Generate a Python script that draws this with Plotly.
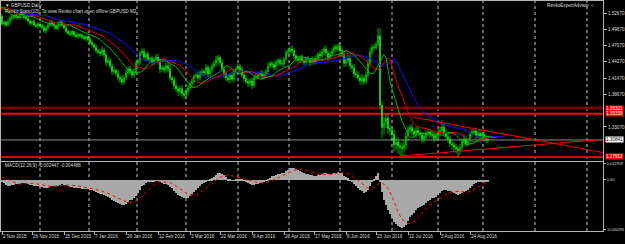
import plotly.graph_objects as go
import pandas as pd

# ---------------- data (prices in 1/10000 units) ----------------
SCALE = 10000.0

# bars before the visible window (only used to warm up the indicators)
warmup_closes = [15220, 15195, 15195, 15135, 15125, 15165, 15185, 15190, 15210, 15285,
                 15330, 15310, 15300, 15240, 15450, 15470, 15440, 15490, 15445, 15440,
                 15395, 15310, 15340, 15300, 15250, 15300, 15425, 15415, 15395, 15300, 15210]

closes = [
    # Nov 2015
    15080, 15110, 15060, 15120, 15180, 15200, 15230, 15210, 15190, 15250,
    15240, 15200, 15170, 15130, 15090, 15120, 15060, 15040, 15080, 15050,
    # Dec 2015
    15020, 14960, 15010, 15060, 15100, 15080, 15040, 15000, 15070, 15110,
    15060, 15010, 14950, 14920, 14900, 14950, 14890, 14860, 14900, 14880,
    14850, 14830, 14860, 14810, 14760,
    # Jan 2016
    14720, 14680, 14620, 14600, 14570, 14630, 14550, 14420, 14450, 14360,
    14260, 14280, 14230, 14160, 14130, 14080, 14150, 14240, 14310, 14270,
    14200, 14260, 14410,
    # Feb 2016
    14430, 14580, 14610, 14500, 14560, 14470, 14480, 14420, 14470, 14510,
    14440, 14300, 14320, 14290, 14360, 14310, 14150, 14120, 14020, 13960,
    13920, 13970, 13880, 13850, 13920,
    # Mar 2016
    13980, 14050, 14090, 14180, 14200, 14150, 14240, 14260, 14240, 14330,
    14220, 14290, 14350, 14400, 14460, 14500, 14410, 14300, 14220, 14150,
    14120, 14200, 14130, 14260, 14310, 14350,
    # Apr 2016
    14290, 14200, 14140, 14090, 14060, 14100, 14020, 14150, 14180, 14200,
    14230, 14170, 14220, 14260, 14350, 14400, 14380, 14330, 14420, 14450,
    14400, 14390, 14470, 14580, 14600,
    # May 2016
    14650, 14620, 14530, 14480, 14450, 14500, 14440, 14420, 14480, 14460,
    14410, 14470, 14430, 14490, 14560, 14530, 14600, 14650, 14580, 14500,
    14560, 14610, 14680, 14650, 14700, 14620,
    # Jun 2016 (to the referendum)
    14560, 14400, 14450, 14490, 14360, 14330, 14220, 14200, 14150, 14100,
    14150, 14090, 14200, 14400, 14600, 14680, 14670, 14720, 14870,
    # after the referendum
    13680, 13300, 13380, 13460, 13280, 13250, 13180, 13000, 13050, 12980,
    12960, 12940, 13000, 13150, 13260,
    # Jul 2016
    13300, 13230, 13180, 13250, 13210, 13170, 13100, 13150, 13200, 13220,
    13180, 13160, 13110, 13150, 13220,
    # Aug 2016
    13250, 13310, 13200, 13140, 13100, 13020, 13000, 12960, 12930, 12900,
    12950, 13050, 13100, 13020, 13060, 13180, 13220, 13240, 13160, 13200,
    13150, 13180, 13120, 13080, 13084,
]

upper_wick = [
    35, 40, 25, 50, 30, 45, 20, 35, 55, 30, 40, 25, 30, 45, 35, 20, 50, 30, 25, 40,
    30, 45, 35, 25, 50, 40, 30, 20, 45, 35, 30, 40, 25, 35, 45, 30, 20, 40, 35, 25, 30, 45, 35, 20, 40,
    40, 35, 50, 30, 45, 60, 35, 40, 55, 50, 45, 60, 35, 50, 40, 70, 45, 55, 40, 50, 35, 60, 45,
    55, 40, 60, 45, 35, 50, 40, 55, 35, 45, 60, 40, 50, 35, 45, 60, 70, 40, 55, 65, 50, 45, 60, 40, 55,
    50, 40, 60, 35, 45, 55, 40, 50, 35, 60, 45, 40, 55, 50, 70, 45, 40, 60, 50, 45, 55, 40, 60, 35, 45, 50,
    45, 55, 40, 60, 50, 45, 55, 40, 50, 45, 35, 55, 40, 45, 60, 50, 40, 55, 45, 35, 50, 60, 45, 55, 50,
    40, 55, 45, 35, 50, 40, 60, 45, 35, 50, 40, 55, 45, 50, 35, 60, 45, 40, 55, 50, 45, 60, 40, 50, 45, 55,
    60, 50, 45, 70, 55, 40, 60, 50, 65, 45, 70, 55, 60, 80, 70, 50, 60, 55, 130,
    140, 60, 90, 70, 80, 75, 65, 90, 70, 80, 60, 75, 85, 70, 65,
    55, 65, 50, 60, 70, 45, 55, 60, 50, 45, 55, 65, 50, 60, 45,
    60, 120, 55, 65, 50, 60, 55, 45, 60, 50, 65, 55, 70, 50, 60, 55, 45, 60, 50, 45, 55, 40, 50, 45, 35,
]

lower_wick = [
    30, 45, 35, 25, 40, 30, 50, 25, 35, 40, 30, 45, 35, 30, 50, 25, 40, 35, 45, 30,
    40, 30, 45, 35, 25, 40, 50, 30, 35, 45, 30, 25, 40, 35, 30, 45, 40, 25, 35, 40, 30, 35, 45, 40, 30,
    45, 40, 55, 35, 50, 40, 60, 70, 45, 55, 60, 50, 45, 65, 70, 55, 45, 40, 50, 60, 45, 50, 40,
    45, 55, 40, 50, 60, 45, 40, 55, 50, 45, 60, 70, 45, 55, 50, 60, 45, 70, 65, 50, 80, 55, 60, 70, 50,
    55, 45, 60, 50, 40, 55, 45, 50, 60, 40, 55, 50, 45, 40, 50, 60, 55, 45, 70, 55, 50, 60, 45, 55, 40, 50,
    50, 55, 60, 45, 70, 50, 65, 45, 40, 50, 45, 55, 40, 50, 45, 40, 55, 50, 45, 60, 40, 45, 50, 40, 55,
    45, 50, 55, 60, 45, 50, 40, 55, 50, 45, 60, 40, 50, 45, 55, 40, 45, 50, 60, 55, 40, 45, 50, 55, 45, 40,
    50, 65, 55, 45, 60, 70, 55, 60, 50, 65, 70, 60, 50, 45, 55, 50, 45, 40, 20,
    60, 180, 120, 90, 100, 85, 110, 120, 95, 130, 140, 110, 85, 70, 80,
    60, 70, 55, 65, 50, 60, 75, 55, 60, 50, 65, 55, 70, 50, 55,
    50, 55, 65, 60, 70, 55, 80, 90, 75, 110, 70, 60, 55, 65, 50, 60, 55, 50, 65, 45, 55, 50, 60, 55, 45,
]

date_labels = ["2 Nov 2015", "26 Nov 2015", "15 Dec 2015", "7 Jan 2016", "26 Jan 2016",
               "12 Feb 2016", "3 Mar 2016", "22 Mar 2016", "8 Apr 2016", "28 Apr 2016",
               "17 May 2016", "6 Jun 2016", "23 Jun 2016", "12 Jul 2016", "3 Aug 2016",
               "24 Aug 2016"]
date_label_bars = [0, 15, 31, 46, 62, 78, 94, 109, 125, 141, 156, 172, 187, 203, 219, 234]
grid_bars = [19, 43.5, 67.5, 92, 118, 143.5, 169, 195, 218, 240.5, 266.5, 292.5]

price_ticks = [1.52670, 1.49870, 1.47070, 1.44270, 1.41470, 1.38670, 1.33070]
level_dark = 1.36321
level_red = 1.35339
level_low = 1.27912
last_price = 1.30841
macd_ticks = [0.012959, 0.0, -0.040291]
macd_tick_text = ["0.012959", "0.00", "-0.040291"]

trend_upper = [(205, 1.3479), (248, 1.3204)]
trend_lower = [(199, 1.2808), (248, 1.2946)]

# ---------------- derived series ----------------
assert len(closes) == len(upper_wick) == len(lower_wick)
n = len(closes)
idx = list(range(n))
c = [v / SCALE for v in closes]
o = [warmup_closes[-1] / SCALE] + c[:-1]          # FX daily bars open at the prior close
h = [max(oo, cc) + u / SCALE for oo, cc, u in zip(o, c, upper_wick)]
l = [min(oo, cc) - d / SCALE for oo, cc, d in zip(o, c, lower_wick)]

nw = len(warmup_closes)
full_idx = list(range(-nw, n))
close_s = pd.Series([v / SCALE for v in warmup_closes] + c, index=full_idx)
median_s = pd.Series([v / SCALE for v in warmup_closes] + [(a + b) / 2 for a, b in zip(h, l)], index=full_idx)


def smma(s, p):
    return s.ewm(alpha=1.0 / p, adjust=False).mean()


jaw = smma(median_s, 13)
teeth = smma(median_s, 8)
lips = smma(median_s, 5)

ema12 = close_s.ewm(span=12, adjust=False).mean()
ema26 = close_s.ewm(span=26, adjust=False).mean()
macd = ema12 - ema26
signal = macd.rolling(9).mean()
vis = [i for i in full_idx if i >= 0]

# ---------------- layout constants ----------------
W, H = 625, 244
ML, MR, MT, MB = 1, 22, 1, 13
PW, PH = W - ML - MR, H - MT - MB
X_RANGE = [-0.5, 300.5]
main_bottom_px, macd_top_px = 160.5, 161.5
main_dom = [(H - MB - main_bottom_px) / PH, 1.0]
macd_dom = [0.0, (H - MB - macd_top_px) / PH]
FRAME = "#b4b4b4"
TXT = "#dcdcdc"
FONT = "Liberation Sans"
FS = 4.6
MACD_RANGE = [-0.04150, 0.01457]   # keeps the extreme labels just inside the pane


def px(xp):
    return (xp - ML) / PW


def py(yp):
    return (H - MB - yp) / PH


fig = go.Figure()

fig.add_trace(go.Candlestick(
    x=idx, open=o, high=h, low=l, close=c, xaxis="x", yaxis="y",
    increasing=dict(line=dict(color="#00ff00", width=0.7), fillcolor="#000000"),
    decreasing=dict(line=dict(color="#00ff00", width=0.7), fillcolor="#e6ffe6"),
    whiskerwidth=0, hoverinfo="skip"))

for ser, shift, col in [(jaw, 8, "#1010ff"), (teeth, 5, "#e00000"), (lips, 3, "#10b010")]:
    fig.add_trace(go.Scatter(x=[i + shift for i in ser.index], y=list(ser.values),
                             mode="lines", line=dict(color=col, width=1),
                             xaxis="x", yaxis="y", hoverinfo="skip"))

fig.add_trace(go.Bar(x=vis, y=[macd[i] for i in vis], width=0.4,
                     marker=dict(color="#a8a8a8", line=dict(width=0)),
                     xaxis="x2", yaxis="y2", hoverinfo="skip"))
fig.add_trace(go.Scatter(x=vis, y=[signal[i] for i in vis], mode="lines",
                         line=dict(color="#ff0000", width=1, dash="dot"),
                         xaxis="x2", yaxis="y2", hoverinfo="skip"))

shapes = []
for b in grid_bars:
    shapes.append(dict(type="line", xref="x", yref="paper", x0=b, x1=b, y0=0, y1=1,
                       line=dict(color="#c8c8c8", width=1, dash="dot"), layer="below"))
for lvl, col, wd in [(level_dark, "#7a0000", 3), (level_red, "#ff0000", 2),
                     (level_low, "#e00000", 2), (last_price, "#8c8c8c", 1)]:
    shapes.append(dict(type="line", xref="paper", yref="y", x0=0, x1=1, y0=lvl, y1=lvl,
                       line=dict(color=col, width=wd), layer="below"))
for (x0, y0), (x1, y1) in [trend_upper, trend_lower]:
    slope = (y1 - y0) / (x1 - x0)
    xe = X_RANGE[1]
    shapes.append(dict(type="line", xref="x", yref="y", x0=x0, y0=y0, x1=xe,
                       y1=y0 + slope * (xe - x0), line=dict(color="#e00000", width=1.2)))

ann = []


def text(xp, yp, s, anchor="left", color=TXT, size=FS):
    ann.append(dict(xref="paper", yref="paper", x=px(xp), y=py(yp), text=s, showarrow=False,
                    xanchor=anchor, yanchor="middle", font=dict(color=color, size=size, family=FONT)))


text(2.5, 5, "▼ GBPUSD,Daily")
text(2.5, 11.5, "Renko Static(23): To view Renko chart open offline GBPUSD M2")
text(597, 5.5, "RenkoExpertAdvisor ☺", anchor="right")
text(2.5, 165.5, "MACD(12,26,9) -0.002447 -0.004488")

for lvl, bg, fg in [(level_dark, "#ff0000", "#ffffff"), (level_red, "#ff0000", "#ffffff"),
                    (last_price, "#ffffff", "#000000"), (level_low, "#ff0000", "#ffffff")]:
    ann.append(dict(xref="paper", yref="y", x=1.0, y=lvl, xshift=2, text=f"{lvl:.5f}",
                    showarrow=False, xanchor="left", yanchor="middle", bgcolor=bg,
                    borderpad=0, font=dict(color=fg, size=FS, family=FONT)))

axis_common = dict(showgrid=False, zeroline=False, showline=True, mirror=True,
                   linecolor=FRAME, linewidth=1, tickcolor=FRAME)
font_main = dict(color=TXT, size=FS, family=FONT)
font_macd = dict(color=TXT, size=3.9, family=FONT)

fig.update_layout(
    width=W, height=H, margin=dict(l=ML, r=MR, t=MT, b=MB, autoexpand=False),
    paper_bgcolor="#000000", plot_bgcolor="#000000", showlegend=False,
    boxgap=0.5,
    xaxis=dict(domain=[0, 1], anchor="y", range=X_RANGE, showticklabels=False, ticks="",
               rangeslider=dict(visible=False), tickfont=font_main, **axis_common),
    xaxis2=dict(domain=[0, 1], anchor="y2", matches="x", range=X_RANGE,
                tickmode="array", tickvals=date_label_bars, ticktext=date_labels,
                ticks="outside", ticklen=3, tickangle=0, ticklabelposition="outside right",
                rangeslider=dict(visible=False), tickfont=font_main, **axis_common),
    yaxis=dict(domain=main_dom, anchor="x", side="right", range=[1.27309, 1.54733],
               tickmode="array", tickvals=price_ticks, ticktext=[f"{t:.5f}" for t in price_ticks],
               ticks="outside", ticklen=3, tickfont=font_main, **axis_common),
    yaxis2=dict(domain=macd_dom, anchor="x2", side="right", range=MACD_RANGE,
                tickmode="array", tickvals=macd_ticks, ticktext=macd_tick_text,
                ticks="outside", ticklen=2, tickfont=font_macd, **axis_common),
    shapes=shapes, annotations=ann, bargap=0,
)

fig.write_html("out.html")
